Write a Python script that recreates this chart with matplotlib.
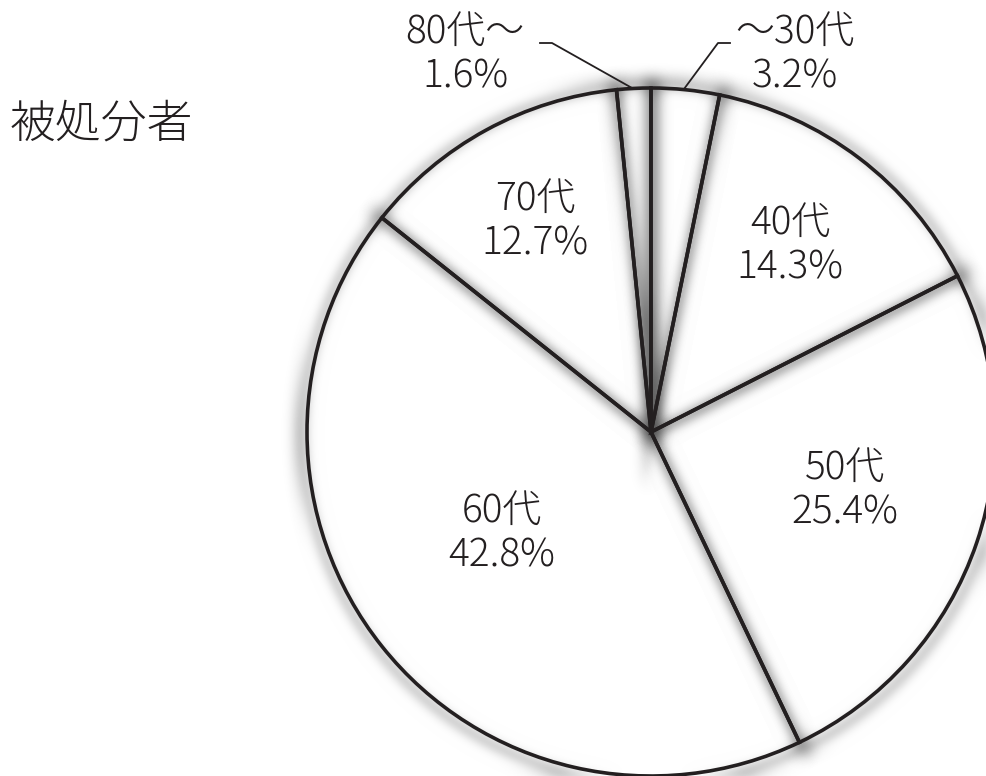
import numpy as np
import matplotlib
matplotlib.use('Agg')
import matplotlib.pyplot as plt

plt.rcParams['font.family'] = ['Noto Sans CJK JP', 'DejaVu Sans']

ages = ['～30代', '40代', '50代', '60代', '70代', '80代～']
shares = [3.2, 14.3, 25.4, 42.8, 12.7, 1.6]
title = '被処分者'

W, H = 987, 776
ink = '#231f20'
cx, cy, R = 651, 432, 344

# label centres in pixels (y measured from the top)
label_pos = [(795, 54), (790, 245), (845, 490), (502, 533), (535, 221), (465, 54)]


def gauss_blur(sigma, pad):
    def f(img, dpi):
        a = np.pad(img, ((pad, pad), (pad, pad), (0, 0)))
        n = int(3 * sigma)
        k = np.exp(-0.5 * (np.arange(-n, n + 1) / sigma) ** 2)
        k /= k.sum()
        for ax_ in (0, 1):
            out = np.zeros_like(a)
            for i, w in zip(range(-n, n + 1), k):
                out += w * np.roll(a, i, axis=ax_)
            a = out
        return a, -pad, -pad
    return f


fig = plt.figure(figsize=(W / 100, H / 100), dpi=100)
ax = fig.add_axes([0, 0, 1, 1])
ax.set_xlim(0, W)
ax.set_ylim(0, H)
ax.set_aspect('equal')
ax.axis('off')

# white fill
ax.pie(shares, center=(cx, H - cy), radius=R, startangle=90, counterclock=False,
       colors=['white'] * len(shares), wedgeprops=dict(linewidth=0))

# soft shadow behind the outline
shadow, _ = ax.pie(shares, center=(cx + 1, H - cy - 2), radius=R + 5, startangle=90,
                   counterclock=False, colors=['none'] * len(shares), frame=False,
                   wedgeprops=dict(edgecolor=(0, 0, 0, 0.45), linewidth=8))
for w in shadow:
    w.set_facecolor('none')
    w.set_agg_filter(gauss_blur(7, 40))
    w.set_rasterized(True)

# outlines
ax.pie(shares, center=(cx, H - cy), radius=R, startangle=90, counterclock=False,
       colors=['none'] * len(shares), frame=False,
       wedgeprops=dict(edgecolor=ink, linewidth=2.6, joinstyle='miter'))

ax.set_xlim(0, W)
ax.set_ylim(0, H)

for name, v, (x, y) in zip(ages, shares, label_pos):
    ax.text(x, H - y, f'{name}\n{v}%', ha='center', va='center', fontsize=28,
            fontweight='light', color=ink, linespacing=1.17)

# leader lines for the two thin slices
ax.plot([540, 552, 632], [H - 43, H - 43, H - 88], color=ink, lw=1.3)
ax.plot([730, 718, 684], [H - 43, H - 43, H - 89], color=ink, lw=1.3)

ax.text(10, H - 125, title, ha='left', va='center', fontsize=33,
        fontweight='light', color=ink)

fig.savefig('out.png', dpi=100)
